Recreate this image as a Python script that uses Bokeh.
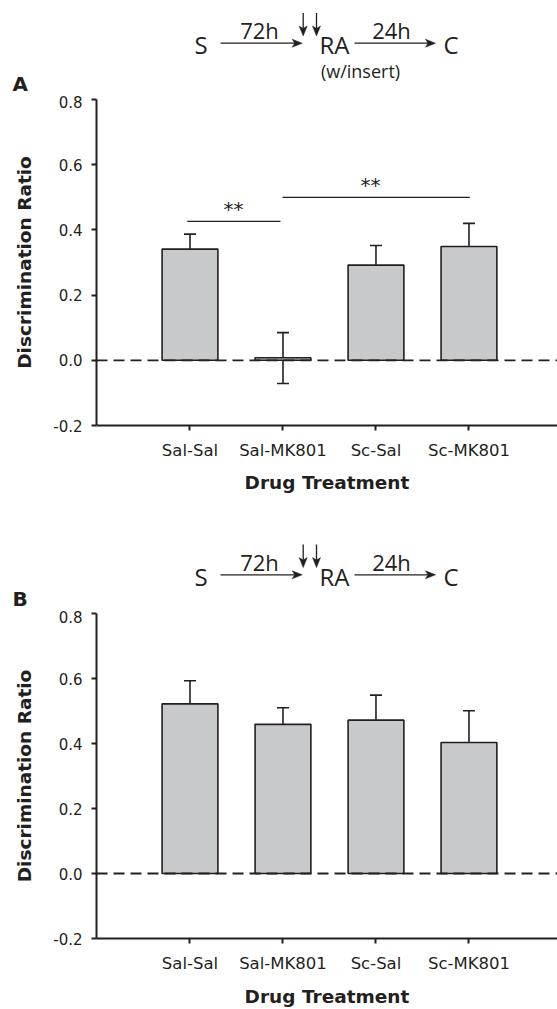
from bokeh.plotting import figure
from bokeh.models import (ColumnDataSource, Range1d, FixedTicker, Whisker, TeeHead, Span, Label)
from bokeh.core.properties import value
from bokeh.layouts import column
from bokeh.embed import file_html
from bokeh.resources import INLINE

# ---------------- data ----------------
categories = ["Sal-Sal", "Sal-MK801", "Sc-Sal", "Sc-MK801"]
cat_pos = [1, 2, 3, 4]

a_mean = [0.341, 0.008, 0.292, 0.349]
a_upper = [0.387, 0.085, 0.352, 0.420]
a_lower = [0.293, -0.071, 0.234, 0.275]

b_mean = [0.522, 0.459, 0.472, 0.403]
b_upper = [0.593, 0.510, 0.549, 0.501]
b_lower = [0.449, 0.406, 0.396, 0.304]

y_ticks = [-0.2, 0.0, 0.2, 0.4, 0.6, 0.8]
y_tick_labels = ["-0.2", "0.0", "0.2", "0.4", "0.6", "0.8"]

# significance brackets (panel A)
sig_x0 = [0.970, 1.995]
sig_x1 = [1.973, 4.009]
sig_y = [0.426, 0.500]
sig_label_x = [1.468, 2.941]
sig_text = ["**", "**"]

INK = "#231f20"
BAR = "#c8c9cb"
AX_FONT = "DejaVu Sans"
SCH_FONT = "Open Sans"
W = 557


def make_schematic(height, shift, letter, letter_mid, insert):
    """Timeline schematic drawn in a figure whose frame fills its canvas (pixel coords)."""
    p = figure(width=W, height=height, x_range=Range1d(0, W), y_range=Range1d(height, 0),
               output_backend="svg", toolbar_location=None,
               x_axis_type=None, y_axis_type=None, frame_align=False,
               min_border_left=0, min_border_right=0, min_border_top=0, min_border_bottom=0)
    p.outline_line_color = None
    p.grid.visible = False

    def txt(xs, ys, ts, size):
        p.text(x=xs, y=[y + shift for y in ys], text=ts, text_font=value(SCH_FONT),
               text_font_size=value(size), text_color=INK,
               text_align="center", text_baseline="middle")

    txt([200.5, 334, 450.5], [44, 44, 44], ["S", "RA", "C"], "24px")
    txt([259, 391], [29.5, 29.5], ["72h", "24h"], "22px")
    if insert:
        txt([360], [70.5], ["(w/insert)"], "18px")

    # arrow shafts
    sx0 = [220, 354, 302.7, 316]
    sy0 = [42.7, 42.7, 12.5, 12.5]
    sx1 = [296, 429, 302.7, 316]
    sy1 = [42.7, 42.7, 30, 30]
    p.segment(x0=sx0, y0=[y + shift for y in sy0], x1=sx1, y1=[y + shift for y in sy1],
              line_color=INK, line_width=1.3)
    # arrow heads (vee shapes): tip at end point
    heads = [(301.7, 42.7, "r"), (435, 42.7, "r"), (302.7, 35.5, "d"), (316, 35.5, "d")]
    hx, hy = [], []
    for x, y, d in heads:
        y = y + shift
        if d == "r":
            hx.append([x, x - 10, x - 7.5, x - 10])
            hy.append([y, y - 4, y, y + 4])
        else:
            hx.append([x, x - 4, x, x + 4])
            hy.append([y, y - 10, y - 7.5, y - 10])
    p.patches(xs=hx, ys=hy, fill_color=INK, line_color=INK, line_width=0.5)

    p.text(x=[12], y=[letter_mid], text=[letter], text_font=value(AX_FONT),
           text_font_style="bold", text_font_size=value("20px"), text_color=INK,
           text_align="left", text_baseline="middle")
    return p


def make_panel(means, upper, lower, height, top_border, bottom_border, xlabel_standoff, sig=False):
    p = figure(width=W, height=height,
               x_range=Range1d(-0.0054, 4.952), y_range=Range1d(-0.2, 0.8),
               output_backend="svg", toolbar_location=None, frame_align=False,
               min_border_left=96, min_border_right=0,
               min_border_top=top_border, min_border_bottom=bottom_border)
    p.outline_line_color = None
    p.grid.visible = False

    src = ColumnDataSource(dict(x=cat_pos, top=means, upper=upper, lower=lower))
    p.vbar(x="x", top="top", bottom=0, width=0.6, source=src,
           fill_color=BAR, line_color=INK, line_width=1.6)
    p.add_layout(Whisker(base="x", upper="upper", lower="lower", source=src,
                         line_color=INK, line_width=1.6,
                         upper_head=TeeHead(size=12, line_color=INK, line_width=1.6),
                         lower_head=TeeHead(size=12, line_color=INK, line_width=1.6)))
    p.add_layout(Span(location=0, dimension="width", line_color=INK,
                      line_width=1.8, line_dash="11 6"))

    p.xaxis.ticker = FixedTicker(ticks=cat_pos)
    p.xaxis.major_label_overrides = {c: n for c, n in zip(cat_pos, categories)}
    p.yaxis.ticker = FixedTicker(ticks=y_ticks)
    p.yaxis.major_label_overrides = {t: s for t, s in zip(y_ticks, y_tick_labels)}
    for ax in (p.xaxis[0], p.yaxis[0]):
        ax.axis_line_color = INK
        ax.axis_line_width = 2
        ax.major_tick_line_color = INK
        ax.major_tick_line_width = 2
        ax.major_tick_out = 5
        ax.major_tick_in = 0
        ax.minor_tick_line_color = None
        ax.major_label_text_font = AX_FONT
        ax.major_label_text_color = INK
        ax.axis_label_text_font = AX_FONT
        ax.axis_label_text_font_style = "bold"
        ax.axis_label_text_color = INK
        ax.axis_label_text_font_size = "18.5px"
    p.xaxis.major_label_text_font_size = "16.5px"
    p.yaxis.major_label_text_font_size = "15px"
    p.xaxis.major_label_standoff = 10
    p.yaxis.major_label_standoff = 9
    p.xaxis.axis_label = "Drug Treatment"
    p.yaxis.axis_label = "Discrimination Ratio"
    p.xaxis.axis_label_standoff = xlabel_standoff
    p.yaxis.axis_label_standoff = 15

    if sig:
        p.segment(x0=sig_x0, y0=sig_y, x1=sig_x1, y1=sig_y, line_color=INK, line_width=1.2)
        for xx, yy, tt in zip(sig_label_x, sig_y, sig_text):
            p.add_layout(Label(x=xx, y=yy + 0.038, text=tt, text_font=AX_FONT,
                               text_font_size="20px", text_color=INK,
                               text_align="center", text_baseline="middle"))
    return p


schA = make_schematic(height=95, shift=0, letter="A", letter_mid=83, insert=True)
pA = make_panel(a_mean, a_upper, a_lower, height=425, top_border=4, bottom_border=95,
                xlabel_standoff=9, sig=True)
schB = make_schematic(height=90, shift=11.6, letter="B", letter_mid=78, insert=False)
pB = make_panel(b_mean, b_upper, b_lower, height=399, top_border=3, bottom_border=70,
                xlabel_standoff=10, sig=False)

layout = column(schA, pA, schB, pB, spacing=0)
open("out.html", "w").write(file_html(layout, INLINE))
